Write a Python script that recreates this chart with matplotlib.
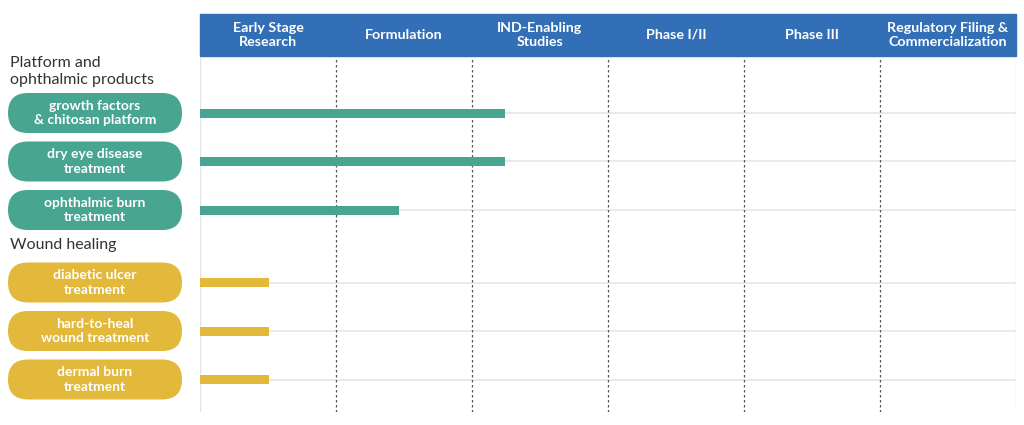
import matplotlib.pyplot as plt
from matplotlib.patches import FancyBboxPatch, Rectangle

plt.rcParams['font.family'] = ['Lato', 'DejaVu Sans']

# pipeline data
phases = ['Early Stage\nResearch', 'Formulation', 'IND-Enabling\nStudies',
          'Phase I/II', 'Phase III', 'Regulatory Filing &\nCommercialization']
groups = ['Platform and\nophthalmic products', 'Wound healing']
products = ['growth factors\n& chitosan platform', 'dry eye disease\ntreatment',
            'ophthalmic burn\ntreatment', 'diabetic ulcer\ntreatment',
            'hard-to-heal\nwound treatment', 'dermal burn\ntreatment']
product_group = [0, 0, 0, 1, 1, 1]
progress = [2.24, 2.24, 1.46, 0.51, 0.51, 0.51]   # in phase units

group_colors = ['#48a592', '#e2b93a']
header_blue = '#336fb7'

W, H = 1024, 425
fig = plt.figure(figsize=(W / 100, H / 100), dpi=100)

# row centres (pixel units, top-down)
row_y = []
y = 113
for i, g in enumerate(product_group):
    if i > 0 and g != product_group[i - 1]:
        y += 24
    row_y.append(y)
    y += 48.5

ax = fig.add_axes([200 / W, 1 - 412 / H, 816 / W, (412 - 57) / H])
ax.set_xlim(0, len(phases))
ax.set_ylim(412, 57)
ax.axis('off')

# grid lines
for yy in row_y:
    ax.axhline(yy, color='#e6e6e6', lw=1.2, zorder=1)
for k in range(1, len(phases)):
    ax.axvline(k, color='#555555', lw=0.9, ls=(0, (2, 2)), zorder=1)
ax.axvline(0, color='#e3e3e3', lw=1, zorder=1)
ax.axvline(len(phases), color='#e3e3e3', lw=1, zorder=1)

# bars
colors = [group_colors[g] for g in product_group]
ax.barh(row_y, progress, height=9, color=colors, zorder=3)

# header band
ax.add_patch(Rectangle((0, 14), len(phases), 42, color=header_blue,
                       clip_on=False, zorder=4))
for k, p in enumerate(phases):
    ax.text(k + 0.5, 35, p, ha='center', va='center', color='white',
            fontsize=10.3, fontweight='bold', linespacing=1.2,
            clip_on=False, zorder=5)

# left labels
lab = fig.add_axes([0, 0, 1, 1])
lab.set_xlim(0, W)
lab.set_ylim(H, 0)
lab.axis('off')
lab.patch.set_alpha(0)

group_y = [56, 238]
for g, name in enumerate(groups):
    lab.text(10, group_y[g], name, ha='left', va='top', color='#333333',
             fontsize=11.5, linespacing=1.25)

for i, name in enumerate(products):
    c = group_colors[product_group[i]]
    yy = row_y[i]
    lab.add_patch(FancyBboxPatch((8, yy - 20), 174, 40,
                                 boxstyle='round,pad=0,rounding_size=20',
                                 fc=c, ec='none'))
    lab.text(95, yy, name, ha='center', va='center', color='white',
             fontsize=10, fontweight='bold', linespacing=1.22)

fig.savefig('out.png', dpi=100)
